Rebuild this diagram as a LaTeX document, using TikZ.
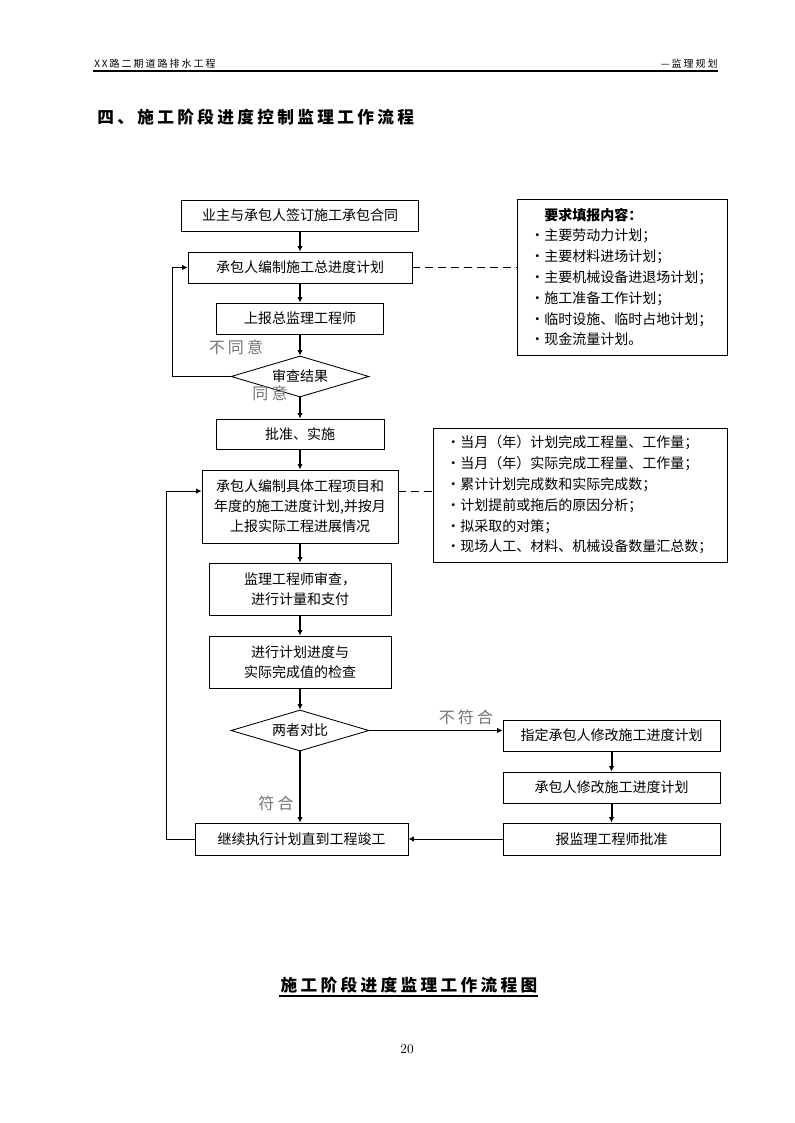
\documentclass[tikz,border=0pt]{standalone}
\usepackage{fontspec}
\newfontfamily\cjk{Noto Sans CJK SC}
\newfontfamily\cjksp[LetterSpace=20]{Noto Sans CJK SC}
\usetikzlibrary{shapes.geometric,arrows.meta}

\begin{document}
\begin{tikzpicture}[x=0.75pt,y=-0.75pt,
    box/.style={draw,line width=0.65pt,inner sep=0pt,align=center,font=\cjk\fontsize{10.5}{15}\selectfont},
    check/.style={draw,diamond,aspect=3.4,line width=0.65pt,inner sep=0pt,font=\cjk\fontsize{10.5}{15}\selectfont},
    info/.style={draw,line width=0.65pt,inner xsep=10pt,inner ysep=0pt,align=left,font=\cjk\fontsize{10.5}{15.6}\selectfont},
    flow/.style={line width=1.5pt,-{Latex[length=4pt,width=4pt]}},
    back/.style={line width=0.65pt,-{Latex[length=4pt,width=4pt]}},
    link/.style={line width=0.65pt,dash pattern=on 6pt off 3.75pt},
    lbl/.style={text=black!55,font=\cjksp\fontsize{12}{12}\selectfont}]

    \useasboundingbox (0,0) rectangle (794,1123);

    % header and title
    \node[anchor=south west,inner sep=0pt,font=\cjksp\fontsize{7.5}{8}\selectfont] (head) at (94,69) {XX路二期道路排水工程};
    \node[anchor=south east,inner sep=0pt,font=\cjksp\fontsize{7.5}{8}\selectfont] (part) at (718,69) {—监理规划};
    \draw[line width=1.1pt] (93,71) -- (718,71);
    \node[anchor=west,inner sep=0pt,font=\cjksp\bfseries\fontsize{12.5}{14}\selectfont] (title) at (97,117) {四、施工阶段进度控制监理工作流程};

    % main column
    \node[box,minimum width=177.75pt,minimum height=23.25pt] (sign) at (300,215.5) {业主与承包人签订施工承包合同};
    \node[box,minimum width=168pt,minimum height=23.25pt] (plan) at (300,267.5) {承包人编制施工总进度计划};
    \node[box,minimum width=125.25pt,minimum height=23.25pt] (report) at (300,318.5) {上报总监理工程师};
    \node[check,minimum width=103.5pt,minimum height=30.75pt] (review) at (300,376.5) {审查结果};
    \node[box,minimum width=126pt,minimum height=22.5pt] (approve) at (300,434) {批准、实施};
    \node[box,minimum width=147pt,minimum height=54.75pt] (detail) at (300,506.5) {承包人编制具体工程项目和\\年度的施工进度计划,并按月\\上报实际工程进展情况};
    \node[box,minimum width=136.5pt,minimum height=39pt] (measure) at (300,589) {监理工程师审查，\\进行计量和支付};
    \node[box,minimum width=136.5pt,minimum height=39pt] (inspect) at (300,662) {进行计划进度与\\实际完成值的检查};
    \node[check,minimum width=103.5pt,minimum height=30.75pt] (compare) at (300,730.5) {两者对比};
    \node[box,minimum width=159.75pt,minimum height=24pt] (finish) at (301.5,839) {继续执行计划直到工程竣工};

    % right column
    \node[box,minimum width=162.75pt,minimum height=23.25pt] (order) at (611.5,735.5) {指定承包人修改施工进度计划};
    \node[box,minimum width=162.75pt,minimum height=23.25pt] (revise) at (611.5,787.5) {承包人修改施工进度计划};
    \node[box,minimum width=162.75pt,minimum height=24pt] (submit) at (611.5,839) {报监理工程师批准};

    % note boxes
    \node[info,minimum width=157.5pt,minimum height=117pt,text width=137.5pt] (need) at (622,277)
        {\hspace{1em}\textbf{要求填报内容：}\\·主要劳动力计划；\\·主要材料进场计划；\\·主要机械设备进退场计划；\\·施工准备工作计划；\\·临时设施、临时占地计划；\\·现金流量计划。};
    \node[info,minimum width=220.5pt,minimum height=100.5pt,text width=200.5pt] (month) at (580,495)
        {·当月（年）计划完成工程量、工作量；\\·当月（年）实际完成工程量、工作量；\\·累计计划完成数和实际完成数；\\·计划提前或拖后的原因分析；\\·拟采取的对策；\\·现场人工、材料、机械设备数量汇总数；};

    \draw[flow] (sign) -- (plan);
    \draw[flow] (plan) -- (report);
    \draw[flow] (report) -- (review);
    \draw[flow] (review) -- (approve);
    \draw[flow] (approve) -- (detail);
    \draw[flow] (detail) -- (measure);
    \draw[flow] (measure) -- (inspect);
    \draw[flow] (inspect) -- (compare);
    \draw[flow] (compare) -- (compare |- finish.north);
    \draw[back] (compare.east) -- (compare.east -| order.west);
    \draw[flow] (order) -- (revise);
    \draw[flow] (revise) -- (submit);
    \draw[back] (submit) -- (finish);
    \draw[back] (review.west) -- ++(-58,0) |- (plan.west);
    \draw[back] (finish.west) -- ++(-28,0) |- ([yshift=11.6pt]detail.west);

    \draw[link] (plan.east) -- (plan.east -| need.west);
    \draw[link] ([yshift=11.6pt]detail.east) -- ([yshift=11.6pt]detail.east -| month.west);

    \node[lbl] (no) at (236,347) {不同意};
    \node[lbl] (yes) at (270,393) {同意};
    \node[lbl] (fail) at (466,717) {不符合};
    \node[lbl] (pass) at (276,803) {符合};

    % caption and page number
    \node[inner sep=0pt,font=\cjksp\bfseries\fontsize{12.5}{13}\selectfont] (caption) at (409,985) {施工阶段进度监理工作流程图};
    \draw[line width=1.1pt] (279,996) -- (538,996);
    \node[inner sep=0pt,font=\fontsize{10}{12}\selectfont] (page) at (407,1049) {20};
\end{tikzpicture}
\end{document}
